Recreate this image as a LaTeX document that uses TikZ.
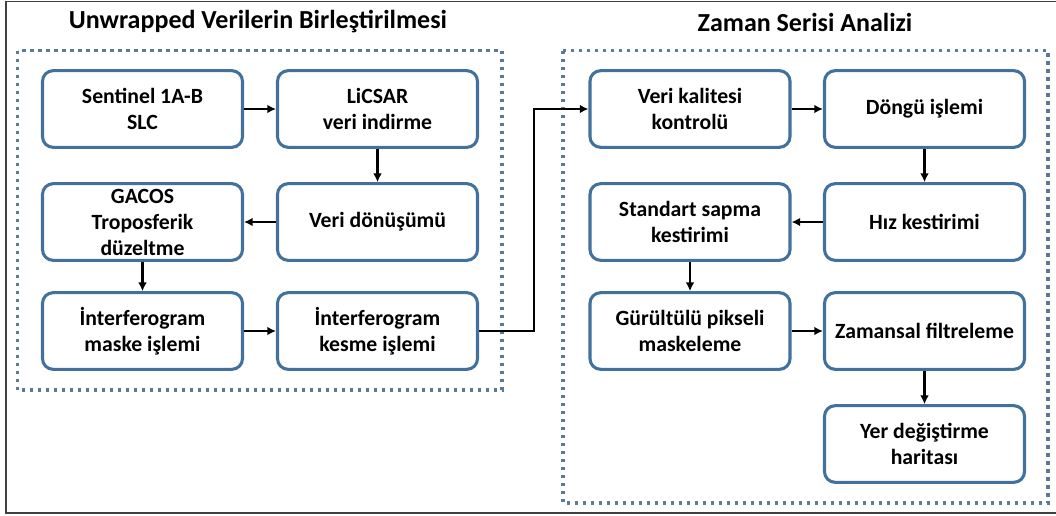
\documentclass[tikz,border=0pt]{standalone}
\usepackage{fontspec}
\setmainfont{Carlito}
\usetikzlibrary{arrows.meta}
\definecolor{boxblue}{HTML}{41719C}
\definecolor{dotblue}{HTML}{5B7A99}
\definecolor{framegray}{HTML}{404040}
\tikzset{
    stepbox/.style={draw=boxblue, line width=2.3pt, rounded corners=8pt, fill=white,
        minimum width=150pt, minimum height=57.5pt, align=center,
        font=\fontsize{16.3}{19.5}\selectfont\bfseries},
    groupbox/.style={draw=dotblue, line width=2.4pt, dash pattern=on 2.3pt off 3.7pt},
    conn/.style={line width=2.1pt, -{Latex[length=6.5pt,width=6.5pt]}},
    grouptitle/.style={font=\fontsize{19.5}{24}\selectfont\bfseries}
}
\begin{document}
\begin{tikzpicture}[x=0.75pt, y=-0.75pt]
        \useasboundingbox (0,0) rectangle (1056,515);
        \fill[white] (0,0) rectangle (1056,515);
        \draw[framegray, line width=1.2pt] (1070,1.5) -- (6,1.5) -- (6,513) -- (1070,513);

        % group frames and titles
        \draw[groupbox] (17.5,50.5) rectangle (502,390);
        \draw[groupbox] (563,50.5) rectangle (1048,503);
        \node[grouptitle] (titleL) at (258,22) {Unwrapped Verilerin Birleştirilmesi};
        \node[grouptitle] (titleR) at (805,22) {Zaman Serisi Analizi};

        % left group
        \node[stepbox] (sentinel) at (142.5,109) {Sentinel 1A-B\\SLC};
        \node[stepbox] (licsar)   at (377.5,109) {LiCSAR\\veri indirme};
        \node[stepbox] (donusum)  at (377.5,222) {Veri dönüşümü};
        \node[stepbox] (gacos)    at (142.5,222) {GACOS\\Troposferik\\düzeltme};
        \node[stepbox] (maske)    at (142.5,331) {İnterferogram\\maske işlemi};
        \node[stepbox] (kesme)    at (377.5,331) {İnterferogram\\kesme işlemi};

        % right group
        \node[stepbox] (kalite)   at (690,109)   {Veri kalitesi\\kontrolü};
        \node[stepbox] (dongu)    at (924.5,109) {Döngü işlemi};
        \node[stepbox] (hiz)      at (924.5,222) {Hız kestirimi};
        \node[stepbox] (sapma)    at (690,222)   {Standart sapma\\kestirimi};
        \node[stepbox] (gurultu)  at (690,331)   {Gürültülü pikseli\\maskeleme};
        \node[stepbox] (filtre)   at (924.5,331) {Zamansal filtreleme};
        \node[stepbox] (harita)   at (924.5,444) {Yer değiştirme\\haritası};

        \draw[conn] (sentinel) -- (licsar);
        \draw[conn] (licsar)   -- (donusum);
        \draw[conn] (donusum)  -- (gacos);
        \draw[conn] (gacos)    -- (maske);
        \draw[conn] (maske)    -- (kesme);

        % link between the two groups
        \coordinate (bend) at (534,331);
        \draw[conn] (kesme) -- (bend) |- (kalite);

        \draw[conn] (kalite)   -- (dongu);
        \draw[conn] (dongu)    -- (hiz);
        \draw[conn] (hiz)      -- (sapma);
        \draw[conn] (sapma)    -- (gurultu);
        \draw[conn] (gurultu)  -- (filtre);
        \draw[conn] (filtre)   -- (harita);
\end{tikzpicture}
\end{document}
